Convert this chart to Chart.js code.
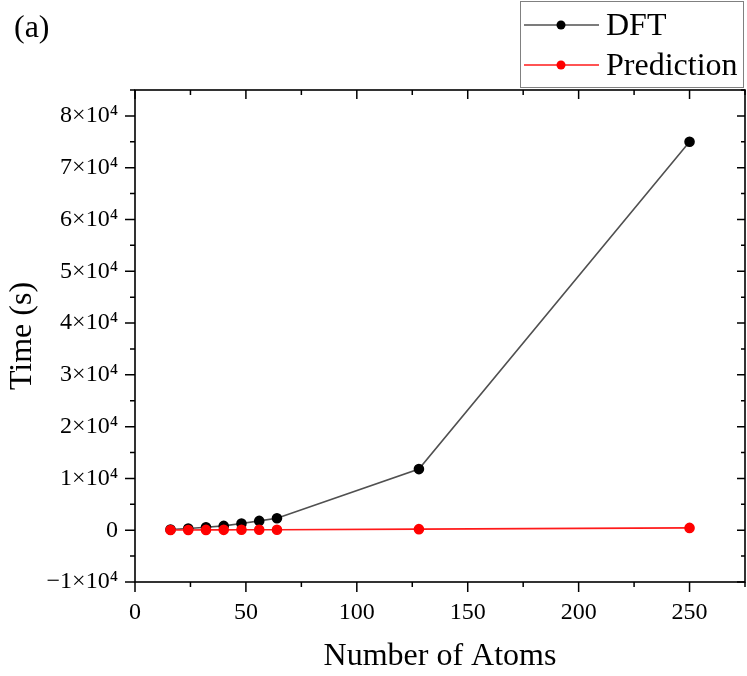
<!DOCTYPE html>
<html>
<head>
<meta charset="utf-8">
<script src="https://cdn.jsdelivr.net/npm/chart.js@4"></script>
<style>
  body { margin: 0; background: #fff; }
  canvas { display: block; }
</style>
</head>
<body>
<canvas id="chart-time" width="747" height="676"></canvas>
<script>
const atoms = [16, 24, 32, 40, 48, 56, 64, 128, 250];
const dftTime = [150, 330, 575, 830, 1280, 1800, 2320, 11800, 75000];
const predTime = [40, 50, 60, 70, 80, 90, 100, 200, 450];
const seriesNames = ["DFT", "Prediction"];
const xTickLabels = [0, 50, 100, 150, 200, 250];
const yTickLabels = [-10000, 0, 10000, 20000, 30000, 40000, 50000, 60000, 70000, 80000];

const SERIF = '"Liberation Serif", "Times New Roman", serif';

function toPoints(xs, ys) {
  return xs.map((x, i) => ({ x: x, y: ys[i] }));
}

function yLabel(v) {
  if (v === 0) return "0";
  const n = v / 10000;
  return (n < 0 ? "\u2212" + Math.abs(n) : n) + "\u00d710\u2074";
}

// frame, ticks (major + minor) and the boxed legend
const framePlugin = {
  id: "frame",
  afterDraw(chart) {
    const c = chart.ctx;
    const a = chart.chartArea;
    const xs = chart.scales.x;
    const ys = chart.scales.y;
    c.save();
    c.strokeStyle = "#000";
    c.lineWidth = 1.6;
    c.strokeRect(a.left, a.top, a.right - a.left, a.bottom - a.top);

    c.lineWidth = 1.5;
    c.beginPath();
    for (let v = 0; v <= 275; v += 25) {
      const px = xs.getPixelForValue(v);
      const major = xTickLabels.includes(v);
      c.moveTo(px, a.bottom);
      c.lineTo(px, a.bottom + (major ? 10 : 5));
      c.moveTo(px, a.top);
      c.lineTo(px, a.top + (major ? 9 : 5));
    }
    for (let v = -10000; v <= 85000; v += 5000) {
      const py = ys.getPixelForValue(v);
      const major = yTickLabels.includes(v);
      c.moveTo(a.left, py);
      c.lineTo(a.left - (major ? 10 : 5), py);
      c.moveTo(a.right, py);
      c.lineTo(a.right - (major ? 8 : 4), py);
    }
    c.stroke();

    // legend box
    c.strokeStyle = "#808080";
    c.lineWidth = 1;
    c.strokeRect(520.5, 1.5, 223, 86);
    chart.data.datasets.forEach((ds, i) => {
      const ly = 25 + i * 40;
      c.strokeStyle = ds.borderColor;
      c.lineWidth = ds.borderWidth;
      c.beginPath();
      c.moveTo(524, ly);
      c.lineTo(599, ly);
      c.stroke();
      c.fillStyle = ds.pointBackgroundColor;
      c.beginPath();
      c.arc(561, ly, 4.5, 0, Math.PI * 2);
      c.fill();
      c.fillStyle = "#000";
      c.font = "32px " + SERIF;
      c.textBaseline = "alphabetic";
      c.fillText(ds.label, 606, ly + 10);
    });

    c.font = "32px " + SERIF;
    c.fillStyle = "#000";
    c.fillText("(a)", 14, 37);
    c.restore();
  },
};

const chartTime = new Chart(document.getElementById("chart-time"), {
  type: "scatter",
  data: {
    datasets: [
      {
        label: seriesNames[0],
        data: toPoints(atoms, dftTime),
        showLine: true,
        borderColor: "#505050",
        borderWidth: 1.6,
        pointBackgroundColor: "#000000",
        pointBorderColor: "#000000",
        pointRadius: 4.5,
        order: 2,
      },
      {
        label: seriesNames[1],
        data: toPoints(atoms, predTime),
        showLine: true,
        borderColor: "#ff1a1a",
        borderWidth: 1.6,
        pointBackgroundColor: "#ff0000",
        pointBorderColor: "#ff0000",
        pointRadius: 4.5,
        order: 1,
      },
    ],
  },
  options: {
    responsive: false,
    animation: false,
    devicePixelRatio: 1,
    layout: { autoPadding: false, padding: { top: 90, right: 2, left: 0, bottom: 0 } },
    plugins: { legend: { display: false }, tooltip: { enabled: false } },
    scales: {
      x: {
        type: "linear",
        min: 0,
        max: 275,
        afterFit(s) {
          s.height = 94;
          s.paddingLeft = 0;
          s.paddingRight = 0;
        },
        grid: { display: false, drawTicks: true, tickLength: 10 },
        border: { display: false },
        ticks: {
          stepSize: 25,
          autoSkip: false,
          maxRotation: 0,
          padding: 6,
          color: "#000",
          font: { family: SERIF, size: 24 },
          callback: (v) => (xTickLabels.includes(v) ? String(v) : ""),
        },
        title: {
          display: true,
          text: "Number of Atoms",
          color: "#000",
          font: { family: SERIF, size: 32 },
          padding: { top: 0, bottom: 0 },
        },
      },
      y: {
        min: -10000,
        max: 85000,
        afterFit(s) { s.width = 135; },
        grid: { display: false, drawTicks: true, tickLength: 10 },
        border: { display: false },
        ticks: {
          stepSize: 5000,
          autoSkip: false,
          padding: 7,
          color: "#000",
          font: { family: SERIF, size: 24 },
          callback: (v) => (yTickLabels.includes(v) ? yLabel(v) : ""),
        },
        title: {
          display: true,
          text: "Time (s)",
          color: "#000",
          font: { family: SERIF, size: 32 },
          padding: { top: 3, bottom: 0 },
        },
      },
    },
  },
  plugins: [framePlugin],
});
</script>
</body>
</html>
